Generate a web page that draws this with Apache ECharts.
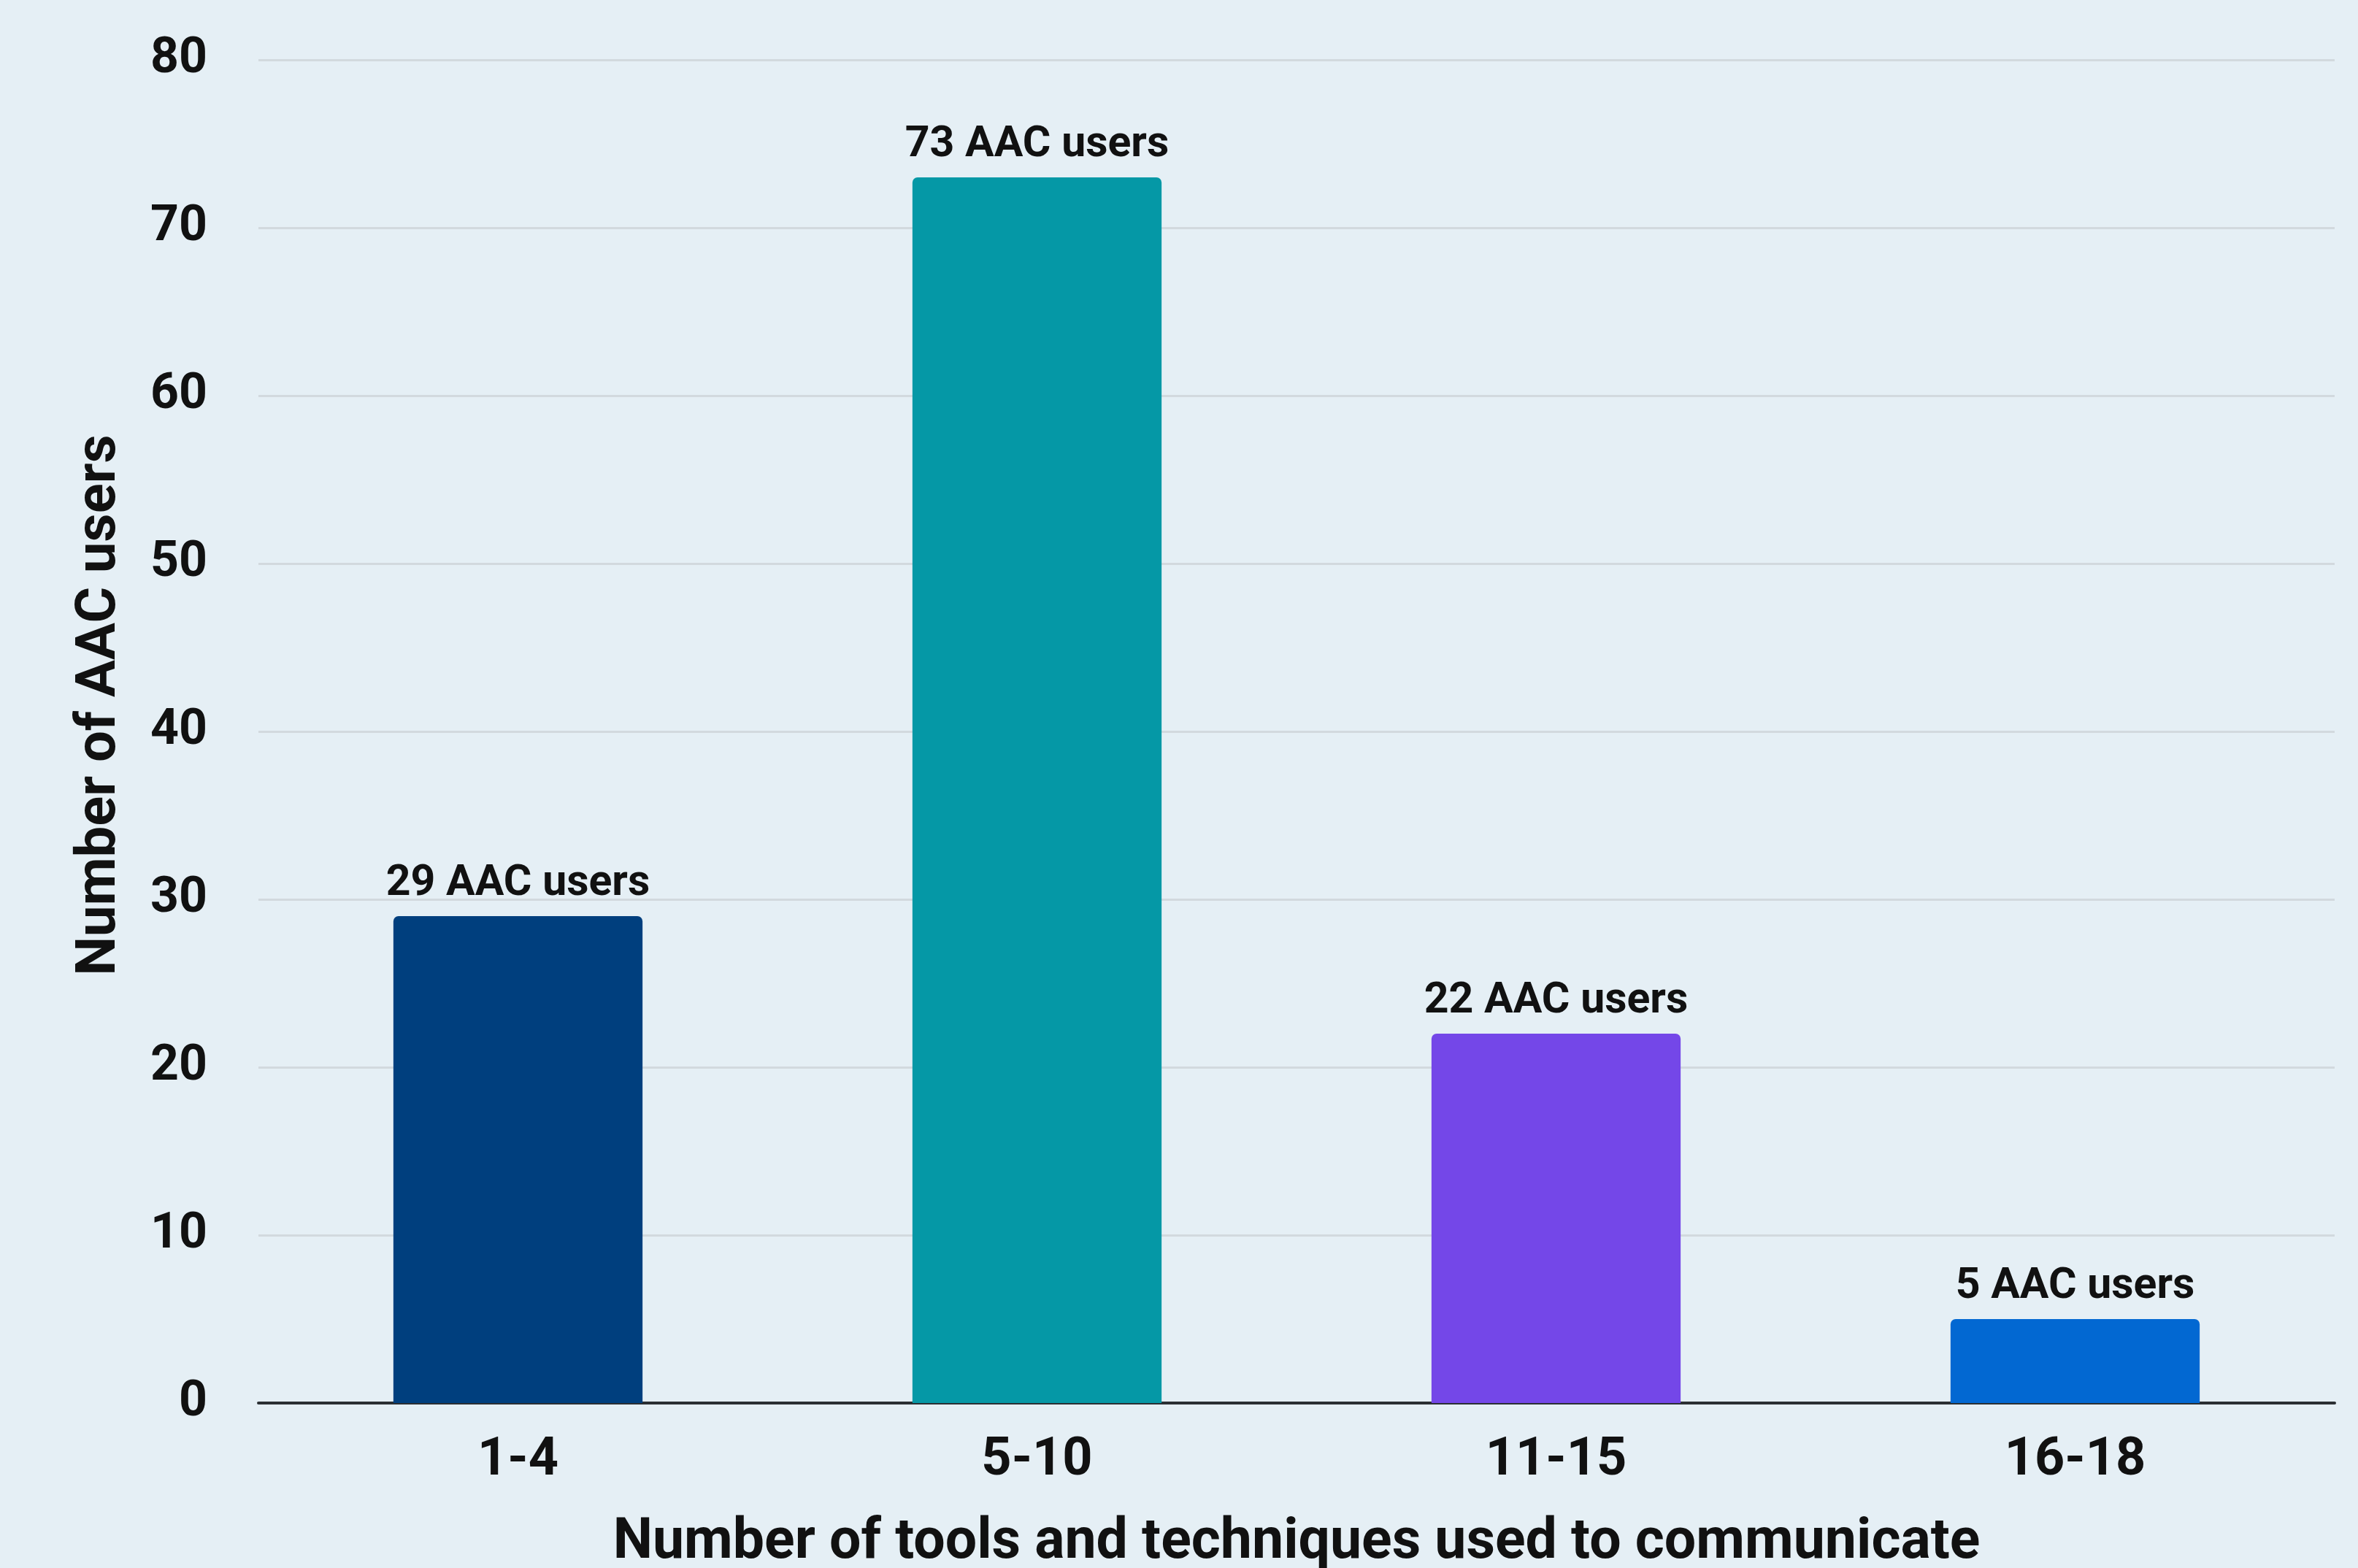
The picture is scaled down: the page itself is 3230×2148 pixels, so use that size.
<!DOCTYPE html>
<html>
<head>
<meta charset="utf-8">
<script src="https://cdn.jsdelivr.net/npm/echarts@6/dist/echarts.min.js"></script>
<style>
html,body{margin:0;padding:0;background:#e5eff5;}
#c{width:3230px;height:2148px;}
</style>
</head>
<body>
<div id="c"></div>
<script>
const categories = ['1-4', '5-10', '11-15', '16-18'];
const users = [29, 73, 22, 5];
const barColors = ['#003f7e', '#0598a6', '#7447e8', '#0268d2'];
const yTicks = [0, 10, 20, 30, 40, 50, 60, 70, 80];
const xTitle = 'Number of tools and techniques used to communicate';
const yTitle = 'Number of AAC users';
const labelSuffix = ' AAC users';

const chart = echarts.init(document.getElementById('c'));
const font = 'Roboto';
chart.setOption({
  backgroundColor: '#e5eff5',
  animation: false,
  grid: { left: 354, right: 32, top: 82, bottom: 226, containLabel: false, outerBoundsMode: 'none' },
  xAxis: {
    type: 'category',
    data: categories,
    axisTick: { show: false },
    axisLine: { lineStyle: { color: '#2b2f33', width: 4 } },
    axisLabel: { color: '#111', fontFamily: font, fontWeight: 'bold', fontSize: 72, margin: 44 },
    name: xTitle,
    nameLocation: 'middle',
    nameGap: 154,
    nameTextStyle: { color: '#111', fontFamily: font, fontWeight: 'bold', fontSize: 77 }
  },
  yAxis: {
    type: 'value',
    min: yTicks[0],
    max: yTicks[yTicks.length - 1],
    interval: yTicks[1] - yTicks[0],
    axisLine: { show: false },
    axisTick: { show: false },
    splitLine: { lineStyle: { color: '#d2d9de', width: 3 } },
    axisLabel: { color: '#111', fontFamily: font, fontWeight: 'bold', fontSize: 68, margin: 70, padding: [32, 0, 0, 0] },
    name: yTitle,
    nameLocation: 'middle',
    nameGap: 178,
    nameRotate: 90,
    nameTextStyle: { color: '#111', fontFamily: font, fontWeight: 'bold', fontSize: 76, padding: [0, 0, 0, 72] }
  },
  series: [{
    type: 'bar',
    data: users.map((v, i) => ({ value: v, itemStyle: { color: barColors[i] } })),
    barWidth: '48%',
    itemStyle: { borderRadius: [7, 7, 0, 0] },
    label: {
      show: true,
      position: 'top',
      distance: 14,
      formatter: p => p.value + labelSuffix,
      color: '#111',
      fontFamily: font,
      fontWeight: 'bold',
      fontSize: 59
    }
  }]
});
</script>
</body>
</html>
